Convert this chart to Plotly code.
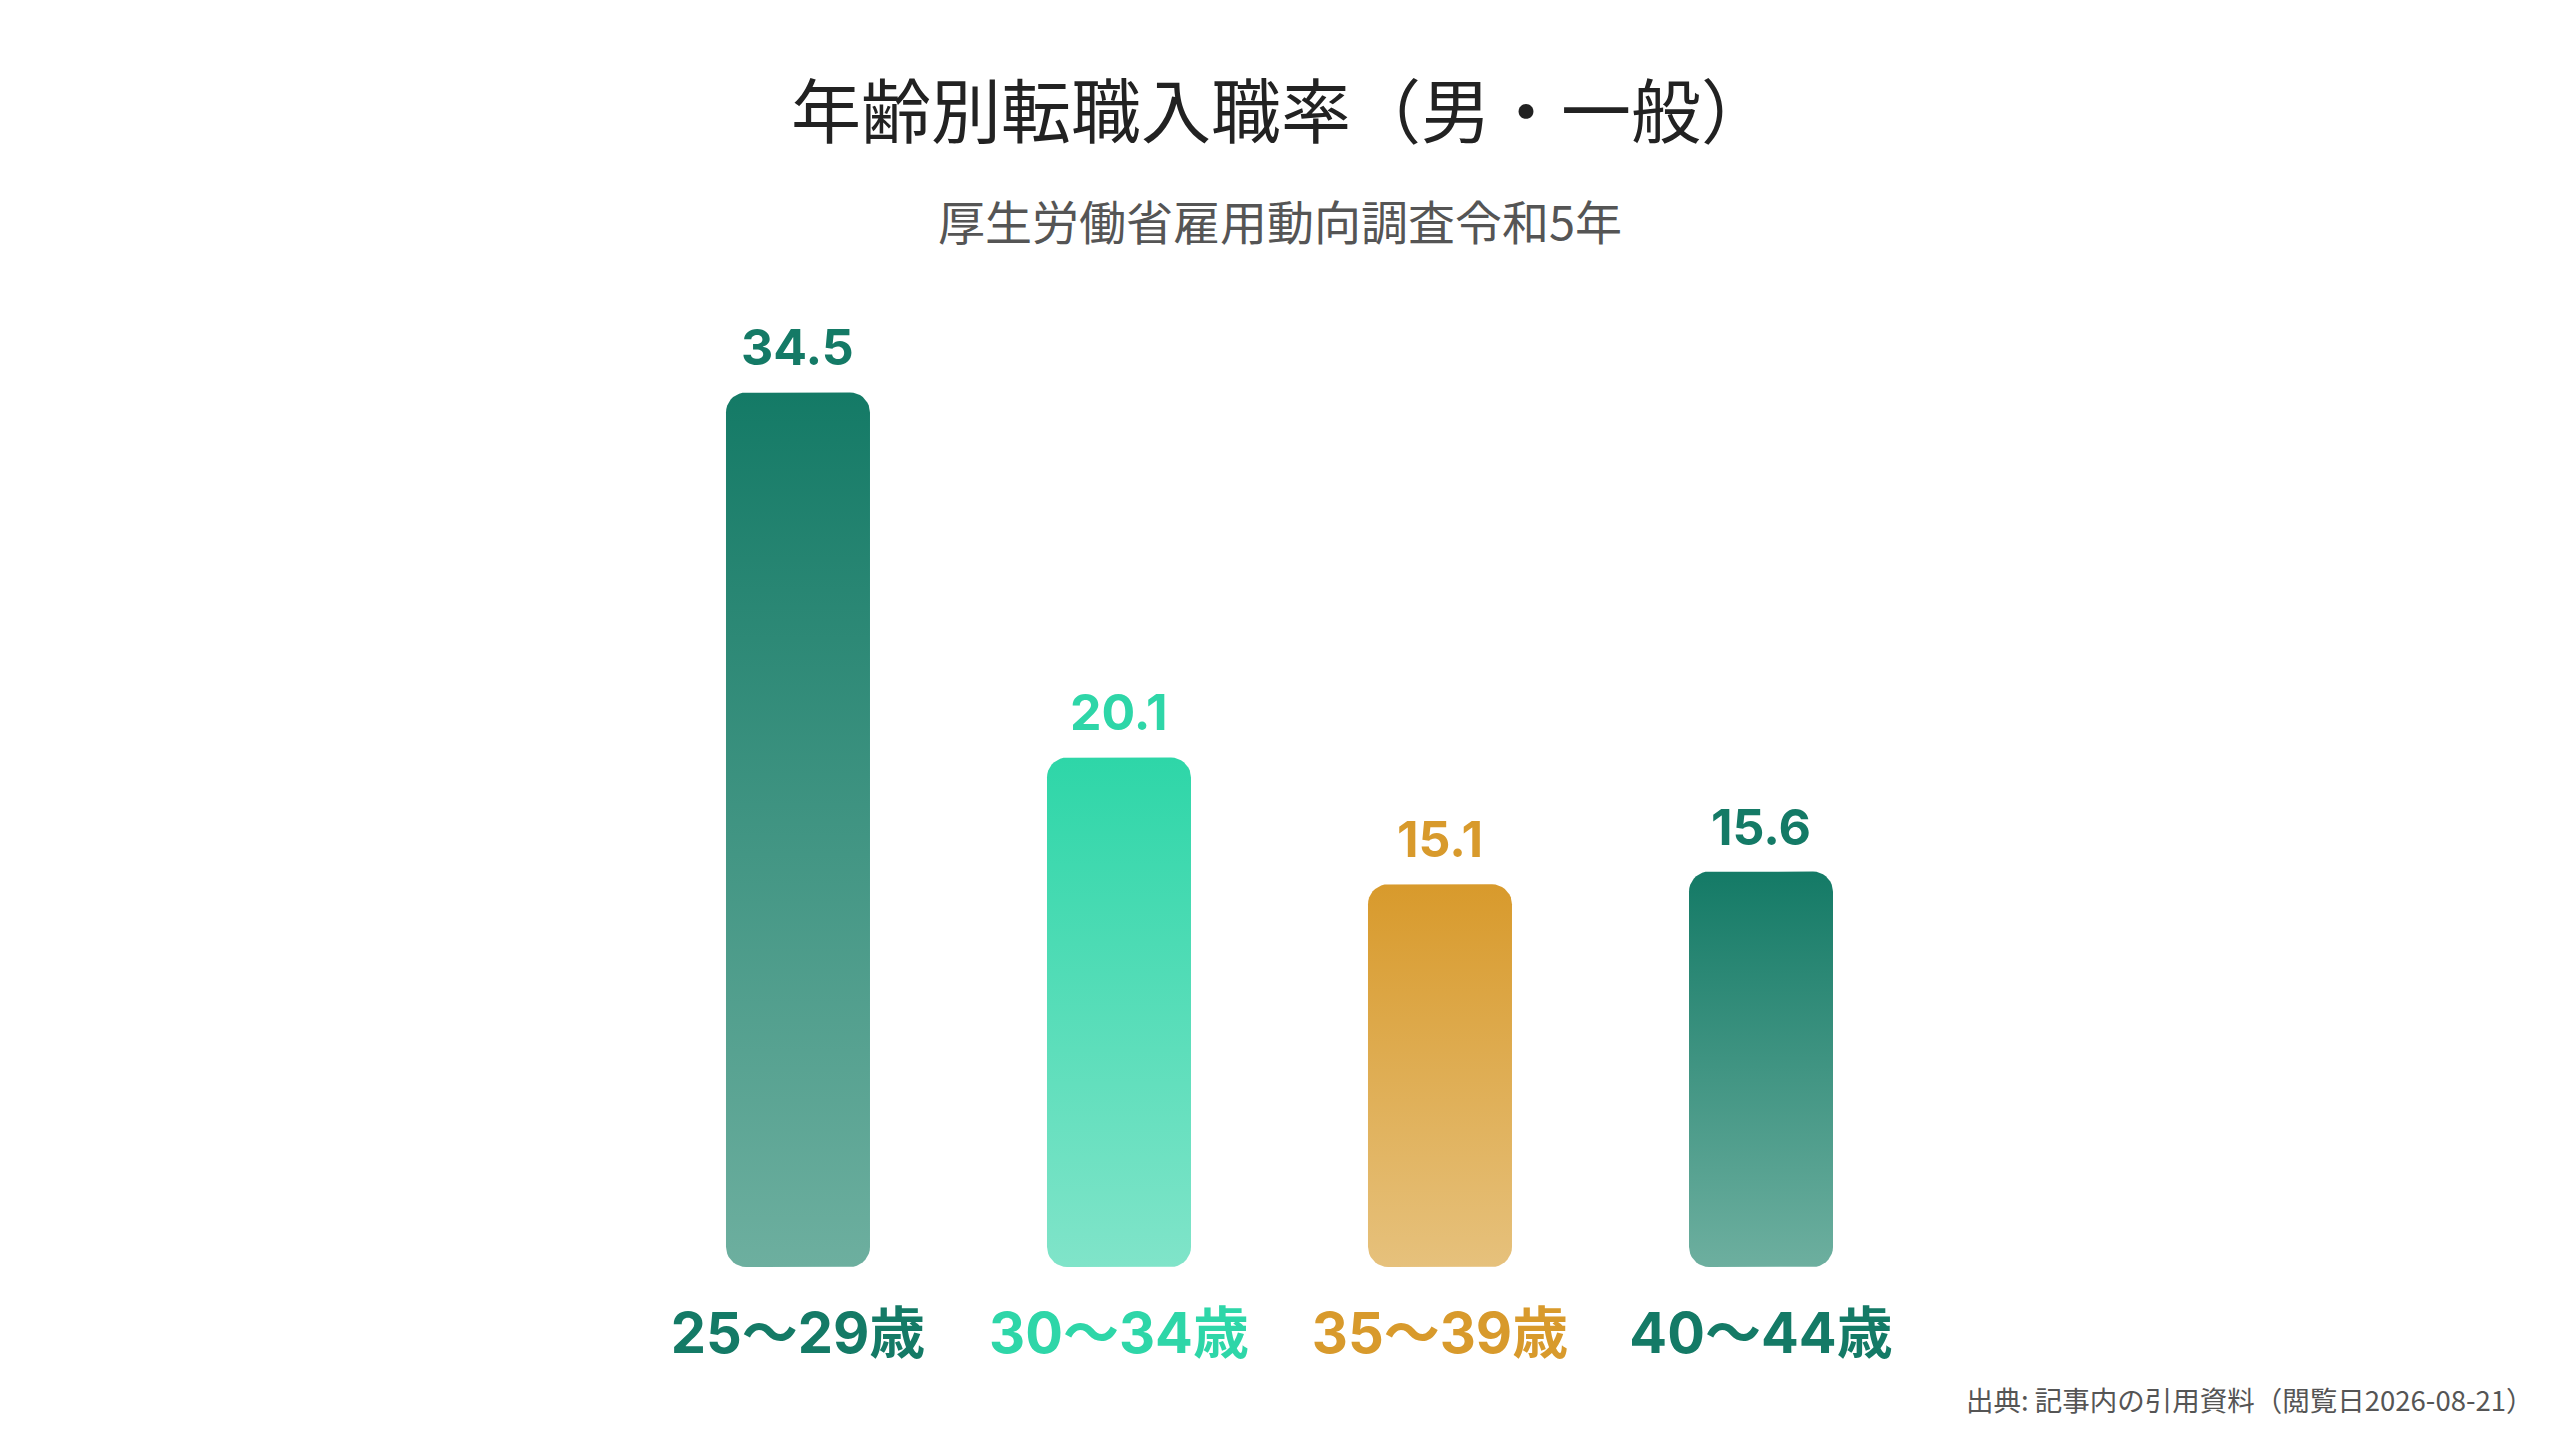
"""
年齢別転職入職率（男・一般） - rounded gradient bars with plotly.
"""
import numpy as np
import plotly.graph_objects as go

categories = ["25～29歳", "30～34歳", "35～39歳", "40～44歳"]
values = [34.5, 20.1, 15.1, 15.6]
top_colors = ["#147a66", "#2ed6a8", "#d89a2c", "#147a66"]
bottom_colors = ["#6daf9f", "#80e4c9", "#e6c17c", "#6daf9f"]

title = "年齢別転職入職率（男・一般）"
subtitle = "厚生労働省雇用動向調査令和5年"
source = "出典: 記事内の引用資料（閲覧日2026-08-21）"

W, H = 2560, 1440
BOTTOM = 181  # space under the bars, px
PLOT_H = H - BOTTOM
FONT = "Inter, Noto Sans CJK JP, sans-serif"

# axis ranges chosen so that 1 category = 321px and 1 unit = 25.35px
x_range = [-2.461, 5.514]
y_range = [0, PLOT_H / 25.35]
px_x = W / (x_range[1] - x_range[0])
px_y = PLOT_H / (y_range[1] - y_range[0])

half_w = 72 / px_x
rx = 20 / px_x
ry = 20 / px_y


def rounded_bar(xc, v):
   """ outline of a bar with four rounded corners, in data units """
   xs, ys = [], []
   corners = [
      (xc + half_w - rx, v - ry, 0, 90),
      (xc - half_w + rx, v - ry, 90, 180),
      (xc - half_w + rx, ry, 180, 270),
      (xc + half_w - rx, ry, 270, 360),
   ]
   for cx, cy, a0, a1 in corners:
      t = np.radians(np.linspace(a0, a1, 10))
      xs += list(cx + rx * np.cos(t))
      ys += list(cy + ry * np.sin(t))
   xs.append(xs[0])
   ys.append(ys[0])
   return xs, ys


def py(y_px):
   """ pixel row from the top of the page -> paper y """
   return (PLOT_H - y_px) / PLOT_H


fig = go.Figure()

# drawing bars
for i, (cat, v) in enumerate(zip(categories, values)):
   xs, ys = rounded_bar(i, v)
   fig.add_trace(go.Scatter(
      x=xs, y=ys,
      mode="lines",
      line=dict(width=0),
      fill="toself",
      fillgradient=dict(
         type="vertical",
         colorscale=[[0, bottom_colors[i]], [1, top_colors[i]]],
      ),
      hoverinfo="skip",
      name=cat,
   ))

# value labels
for i, v in enumerate(values):
   fig.add_annotation(
      x=i, y=v, xref="x", yref="y",
      text=f"<b>{v}</b>",
      showarrow=False,
      yanchor="bottom",
      yshift=13,
      font=dict(family=FONT, size=50, color=top_colors[i]),
   )

# title, subtitle and source
fig.add_annotation(
   x=1273 / W, y=py(99), xref="paper", yref="paper",
   text=title, showarrow=False, yanchor="middle",
   font=dict(family="Noto Sans CJK JP", size=70, color="#222222"),
)
fig.add_annotation(
   x=1272 / W, y=py(212), xref="paper", yref="paper",
   text=subtitle, showarrow=False, yanchor="middle",
   font=dict(family="Noto Sans CJK JP", size=47, color="#555555"),
)
fig.add_annotation(
   x=2528 / W, y=py(1391), xref="paper", yref="paper",
   text=source, showarrow=False, xanchor="right", yanchor="middle",
   font=dict(family="Noto Sans CJK JP", size=27.5, color="#555555"),
)

ticktext = [
   f"<span style='color:{c}'><b>{t}</b></span>"
   for t, c in zip(categories, top_colors)
]

fig.update_layout(
   width=W, height=H,
   margin=dict(l=0, r=0, t=0, b=BOTTOM),
   paper_bgcolor="white",
   plot_bgcolor="white",
   showlegend=False,
   xaxis=dict(
      range=x_range, showgrid=False, zeroline=False, showline=False,
      tickvals=list(range(len(categories))), ticktext=ticktext,
      ticks="", ticklabelstandoff=29, automargin=False,
      tickfont=dict(family=FONT, size=56),
      fixedrange=True,
   ),
   yaxis=dict(range=y_range, visible=False, fixedrange=True),
)

fig.write_html("out.html")
